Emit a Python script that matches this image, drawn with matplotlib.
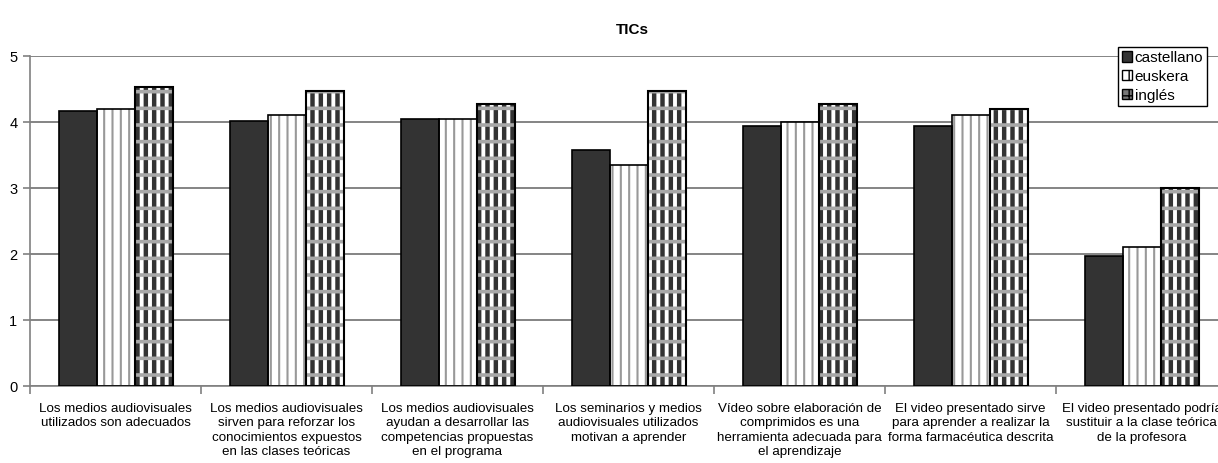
import matplotlib
matplotlib.use('Agg')
import matplotlib.pyplot as plt
import numpy as np
from matplotlib.patches import Patch

plt.rcParams['font.family'] = ['Liberation Sans', 'DejaVu Sans']

# data
categories = [
    'Los medios audiovisuales\nutilizados son adecuados',
    'Los medios audiovisuales\nsirven para reforzar los\nconocimientos expuestos\nen las clases teóricas',
    'Los medios audiovisuales\nayudan a desarrollar las\ncompetencias propuestas\nen el programa',
    'Los seminarios y medios\naudiovisuales utilizados\nmotivan a aprender',
    'Vídeo sobre elaboración de\ncomprimidos es una\nherramienta adecuada para\nel aprendizaje',
    'El video presentado sirve\npara aprender a realizar la\nforma farmacéutica descrita',
    'El video presentado podría\nsustituir a la clase teórica\nde la profesora',
]
castellano = [4.17, 4.02, 4.05, 3.58, 3.94, 3.94, 1.97]
euskera = [4.19, 4.10, 4.04, 3.35, 4.00, 4.10, 2.10]
ingles = [4.53, 4.47, 4.27, 4.47, 4.27, 4.20, 3.00]
series_names = ['castellano', 'euskera', 'inglés']
yticks = [0, 1, 2, 3, 4, 5]

W, H = 1218, 463
fig = plt.figure(figsize=(W / 100, H / 100), dpi=100)
ax = fig.add_axes([30 / W, 1 - 386 / H, (1227 - 30) / W, (386 - 56) / H])

x = np.arange(len(categories))
bw = 1 / 4.5  # excel gap width 150%


def hatch_layer(xs, vals, hatch, color, lw):
    bars = ax.bar(xs, vals, bw, facecolor='none', edgecolor=color,
                  linewidth=0, hatch=hatch, zorder=3)
    for b in bars:
        if hasattr(b, 'set_hatch_linewidth'):
            b.set_hatch_linewidth(lw)
    return bars


# castellano: solid dark
ax.bar(x - bw, castellano, bw, color='#333333', edgecolor='black',
       linewidth=1.2, zorder=3)

# euskera: white with gray vertical stripes
ax.bar(x, euskera, bw, color='white', linewidth=0, zorder=2.5)
hatch_layer(x, euskera, '||', '#999999', 1.5)
ax.bar(x, euskera, bw, fill=False, edgecolor='black', linewidth=1.2, zorder=4)

# inglés: checkered pattern
ax.bar(x + bw, ingles, bw, color='white', linewidth=0, zorder=2.5)
hatch_layer(x + bw, ingles, '||', '#333333', 3.2)
hatch_layer(x + bw, ingles, '-', '#a8a8a8', 2.6)
ax.bar(x + bw, ingles, bw, fill=False, edgecolor='black', linewidth=1.5, zorder=4)

ax.set_xlim(-0.5, len(categories) - 0.5)
ax.set_ylim(0, 5)
ax.set_yticks(yticks)
ax.yaxis.grid(True, color='#707070', linewidth=1.2, zorder=0)
ax.set_axisbelow(True)

for s in ['top', 'right']:
    ax.spines[s].set_visible(False)
for s in ['left', 'bottom']:
    ax.spines[s].set_color('#808080')
    ax.spines[s].set_linewidth(1.2)

ax.set_xticks(np.arange(len(categories) + 1) - 0.5)
ax.set_xticklabels([])
ax.set_xticks(x, minor=True)
ax.set_xticklabels(categories, minor=True, fontsize=9.6)
ax.tick_params(axis='x', which='major', length=6, color='#808080', width=1.2)
ax.tick_params(axis='x', which='minor', length=0, pad=12)
ax.tick_params(axis='y', length=5, color='#808080', width=1.2, labelsize=10.5, pad=4)
for lbl in ax.get_xticklabels(minor=True):
    lbl.set_verticalalignment('top')
    lbl.set_linespacing(1.28)

fig.text(632 / W, 1 - 30 / H, 'TICs', ha='center', va='center',
         fontsize=11, fontweight='bold')

handles = [
    Patch(facecolor='#333333', edgecolor='black'),
    Patch(facecolor='white', edgecolor='black', hatch='||'),
    Patch(facecolor='#777777', edgecolor='black', hatch='++'),
]
leg = fig.legend(handles, series_names, loc='upper left',
                 bbox_to_anchor=(1118 / W, 1 - 47 / H), borderaxespad=0,
                 fontsize=11, handlelength=0.65, handleheight=0.65,
                 handletextpad=0.2, borderpad=0.25, labelspacing=0.32,
                 fancybox=False, framealpha=1)
leg.get_frame().set_edgecolor('black')
leg.get_frame().set_linewidth(1)

fig.savefig('out.png', dpi=100)
